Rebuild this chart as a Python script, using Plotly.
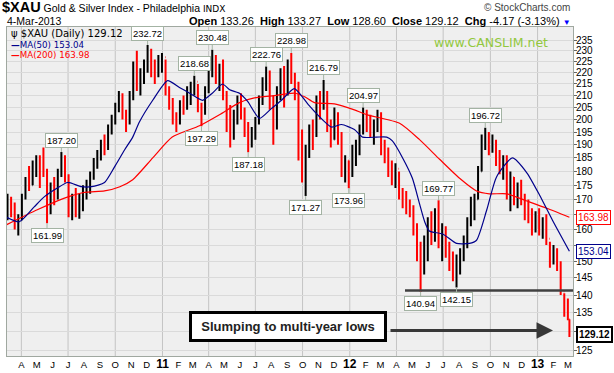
import numpy as np
import pandas as pd
import plotly.graph_objects as go

# ---------------- data ----------------
week_dates = pd.date_range("2010-03-05", "2013-03-01", freq="W-FRI").strftime("%Y-%m-%d").tolist()

high_2010 = [172, 171, 169, 165, 172, 178, 182, 184, 186, 186, 189, 181, 176, 178, 181, 187.20, 186,
             179, 172, 174, 172, 175, 177, 180, 185, 188, 192, 194, 198, 202, 207, 212, 211, 204, 212,
             225, 230, 222, 226, 232.72, 231, 226, 228, 229]
low_2010 = [163, 164, 160, 158, 163, 170, 173, 175, 178, 174, 178, 161.99, 165, 168, 170, 178, 176,
            164, 163, 164, 163.5, 166, 170, 172, 177, 181, 184, 186, 188, 194, 198, 203, 200, 195, 198,
            208, 212, 210, 215, 220, 218, 215, 218, 220]
close_2010 = [168, 166, 162, 163, 171, 176, 175, 182, 184, 182, 180, 170, 174, 172, 180, 184, 178,
              167, 170, 166, 169, 172, 175, 178, 184, 186, 190, 189, 196, 200, 205, 209, 203, 200, 210,
              222, 216, 219, 223, 229, 222, 220, 225, 227]

high_2011 = [226, 214, 209, 203, 208, 210, 214, 216, 218.68, 215, 207, 214, 222, 230.48, 228, 224, 226,
             212, 206, 204, 210, 211, 205, 199, 197, 201, 210, 218, 222.76, 221, 210, 214, 222, 223,
             226, 228.98, 220, 216, 196, 190, 198, 200, 210, 212, 216.79, 212, 200, 205, 203, 195, 186, 184]
low_2011 = [210, 204, 198, 195, 198, 202, 204, 206, 210, 203, 197.29, 202, 211, 218, 215, 212, 208,
            195, 189, 192, 198, 200, 193, 187.18, 189, 192, 198, 206, 212, 204, 190, 196, 208, 205,
            210, 215, 208, 184, 176, 171.27, 185, 188, 193, 200, 204, 195, 189, 192, 190, 178, 176, 173.96]
close_2011 = [212, 208, 200, 199, 206, 205, 212, 213, 216, 206, 203, 212, 220, 226, 218, 222, 210,
              200, 195, 201, 208, 203, 195, 191, 194, 199, 208, 215, 219, 206, 200, 212, 218, 212,
              224, 218, 214, 188, 185, 186, 196, 194, 208, 206, 210, 198, 192, 201, 194, 181, 184, 180]

high_2012 = [190, 192, 198, 204.97, 204, 202, 200, 204, 203, 192, 189, 184, 183, 180, 174, 173, 170,
             168, 162, 156, 158, 164, 166, 167, 169.77, 162, 161, 156, 153, 152, 154, 158, 164, 171, 172,
             182, 194, 196.72, 195, 194, 192, 188, 186, 186, 180, 178, 176, 177, 172, 170, 167, 166]
low_2012 = [178, 182, 186, 194, 195, 193, 190, 195, 186, 183, 178, 175, 174, 170, 167, 165, 164,
            158, 150, 140.94, 146, 150, 155, 156, 154, 150, 151, 147, 144, 142.15, 146, 150, 154, 161, 163,
            170, 180, 188, 186, 187, 182, 179, 177, 170, 166, 168, 167, 168, 163, 162, 158, 159]
close_2012 = [186, 189, 196, 202, 199, 196, 198, 201, 189, 188, 180, 178, 181, 172, 171, 168, 167,
              160, 152, 149, 155, 162, 158, 163, 157, 160, 153, 150, 147, 150, 152, 156, 162, 169, 170,
              180, 192, 194, 190, 191, 184, 181, 184, 173, 178, 171, 174, 170, 167, 166, 162, 164]

high_2013 = [167, 164, 165, 156, 155, 154, 150, 140.5, 139]
low_2013 = [158, 157, 155, 148, 149, 147, 140, 134, 133]
close_2013 = [160, 162, 157, 152, 153, 149, 141, 137, 133.29]

first_open = 167
last_day = "2013-03-04"
last_open, last_high, last_low, last_close = 133.26, 133.27, 128.60, 129.12
last_chg, last_chg_pct = -4.17, -3.13

ma50_dates = ["2010-03-03", "2010-03-28", "2010-04-26", "2010-05-16", "2010-06-10", "2010-06-30",
              "2010-07-27", "2010-08-16", "2010-09-10", "2010-09-29", "2010-10-19", "2010-11-04",
              "2010-11-17", "2010-12-13", "2011-01-11", "2011-02-03", "2011-02-23", "2011-03-20",
              "2011-04-08", "2011-04-28", "2011-05-12", "2011-05-31", "2011-06-16", "2011-07-09",
              "2011-08-01", "2011-08-21", "2011-09-15", "2011-10-11", "2011-10-30", "2011-11-26",
              "2011-12-16", "2012-01-10", "2012-01-26", "2012-02-22", "2012-03-13", "2012-03-24",
              "2012-04-13", "2012-05-02", "2012-05-16", "2012-05-26", "2012-06-04", "2012-06-30",
              "2012-07-27", "2012-08-21", "2012-09-04", "2012-09-24", "2012-10-13", "2012-11-13",
              "2012-12-11", "2013-01-05", "2013-01-30", "2013-03-04"]
ma50_vals = [164, 162.5, 167.5, 171, 174, 176, 174.5, 174.5, 176, 181.5, 188, 193, 199, 208,
             216.5, 213.5, 211, 208, 211, 215, 212.5, 211, 207.5, 200.5, 204.5, 208, 213, 206.5, 202,
             197, 198, 196, 193, 193, 193, 191.5, 185, 177.5, 168.5, 162.5, 159.5, 158.5, 155.5, 155.5,
             156.5, 166.5, 178, 185, 179.5, 171.5, 163, 153.04]

ma200_dates = ["2010-03-03", "2010-05-02", "2010-06-24", "2010-08-02", "2010-09-10", "2010-10-10",
               "2010-11-04", "2010-12-13", "2011-01-20", "2011-03-14", "2011-04-22", "2011-05-31",
               "2011-06-29", "2011-08-07", "2011-09-15", "2011-10-05", "2011-10-24", "2011-12-02",
               "2012-01-10", "2012-02-03", "2012-04-07", "2012-05-16", "2012-06-24", "2012-08-02",
               "2012-09-04", "2012-09-29", "2012-11-02", "2012-12-11", "2013-01-19", "2013-03-04"]
ma200_vals = [161.5, 166.5, 170.5, 172.5, 173, 174.5, 177, 185, 193, 197.5, 202, 207, 209, 210, 211,
              209.5, 207, 206.5, 204, 202, 198.5, 192, 184.5, 177.5, 173, 172, 172, 169.5, 167, 163.98]

high_labels = [232.72, 230.48, 228.98, 222.76, 218.68, 216.79, 204.97, 196.72, 187.20, 169.77]
low_labels = [161.99, 197.29, 187.18, 171.27, 173.96, 140.94, 142.15]

y_ticks = list(range(125, 240, 5))
y_ticks_hidden = [130, 155, 165]   # covered by the value tags
month_letters = ["J", "F", "M", "A", "M", "J", "J", "A", "S", "O", "N", "D"]

# ---------------- assemble ----------------
dates = week_dates + [last_day]
highs = high_2010 + high_2011 + high_2012 + high_2013 + [last_high]
lows = low_2010 + low_2011 + low_2012 + low_2013 + [last_low]
closes = close_2010 + close_2011 + close_2012 + close_2013 + [last_close]
opens = [first_open] + closes[:-2] + [last_open]

# pixel helpers for the plot box (left 7, right 573, top 27, bottom 356)
L, R, T, B = 7, 573, 27, 356
def px(X):
    return (X - L) / (R - L)
def py(Y):
    return (B - Y) / (B - T)

fig = go.Figure()
fig.add_trace(go.Ohlc(x=dates, open=opens, high=highs, low=lows, close=closes,
                      increasing=dict(line=dict(color="black", width=2.0)),
                      decreasing=dict(line=dict(color="#ff0000", width=2.0)),
                      tickwidth=0.3, hoverinfo="skip"))
fig.add_trace(go.Scatter(x=ma200_dates, y=ma200_vals, mode="lines",
                         line=dict(color="#ff0000", width=1.2, shape="spline", smoothing=0.6),
                         hoverinfo="skip"))
fig.add_trace(go.Scatter(x=ma50_dates, y=ma50_vals, mode="lines",
                         line=dict(color="#00008b", width=1.2, shape="spline", smoothing=0.6),
                         hoverinfo="skip"))

# month ticks
month_ticks = pd.date_range("2010-04-01", "2013-03-01", freq="MS")
tick_text = []
for d in month_ticks:
    if d.month == 1:
        tick_text.append("<b><span style='font-size:12px'>%02d</span></b>" % (d.year % 100))
    else:
        tick_text.append(month_letters[d.month - 1])
quarters = pd.date_range("2010-04-01", "2013-01-01", freq="QS")

shapes = []
for q in quarters:
    shapes.append(dict(type="line", xref="x", yref="paper", x0=q, x1=q, y0=0, y1=1,
                       line=dict(color="#c4c4c4", width=1), layer="below"))
# support line
shapes.append(dict(type="line", xref="paper", yref="paper", x0=px(405), x1=1,
                   y0=py(290.5), y1=py(290.5), line=dict(color="#404040", width=2.5)))

ann = []
label_font = dict(family="Liberation Sans, Arial", size=9.5, color="black")
for v in high_labels:
    i = highs.index(v)
    ann.append(dict(x=dates[i], y=np.log10(v), xref="x", yref="y", text="%.2f" % v,
                    showarrow=True, arrowhead=0, arrowwidth=1, arrowcolor="#a3b3a3",
                    ax=0, ay=-12, font=label_font, bgcolor="white", bordercolor="#a3b3a3",
                    borderwidth=1, borderpad=1))
for v in low_labels:
    i = lows.index(v)
    ann.append(dict(x=dates[i], y=np.log10(v), xref="x", yref="y", text="%.2f" % v,
                    showarrow=True, arrowhead=0, arrowwidth=1, arrowcolor="#a3b3a3",
                    ax=0, ay=12, font=label_font, bgcolor="white", bordercolor="#a3b3a3",
                    borderwidth=1, borderpad=1))

# right tags
tag_font = "Liberation Sans, Arial"
for val, col, bw, bold in [(ma200_vals[-1], "#ff0000", 1, False), (ma50_vals[-1], "#00008b", 1, False),
                            (last_close, "black", 2, True)]:
    t = "%.2f" % val
    if bold:
        t = "<b>" + t + "</b>"
    ann.append(dict(x=1, y=np.log10(val), xref="paper", yref="y", text=t, showarrow=False,
                    xanchor="left", yanchor="middle", xshift=3,
                    font=dict(family=tag_font, size=10, color=col), bgcolor="white",
                    bordercolor=col, borderwidth=bw, borderpad=1))

# legend inside plot
ann.append(dict(x=px(9), y=py(33.5), xref="paper", yref="paper", xanchor="left", yanchor="middle",
                showarrow=False, text="ψ $XAU (Daily) %.2f" % last_close,
                font=dict(family="DejaVu Sans", size=10, color="black")))
ann.append(dict(x=px(9), y=py(44.5), xref="paper", yref="paper", xanchor="left", yanchor="middle",
                showarrow=False, text="<b>—</b>MA(50) %.2f" % ma50_vals[-1],
                font=dict(family="DejaVu Sans", size=8.7, color="#00008b")))
ann.append(dict(x=px(9), y=py(55), xref="paper", yref="paper", xanchor="left", yanchor="middle",
                showarrow=False, text="<b>—</b>MA(200) %.2f" % ma200_vals[-1],
                font=dict(family="DejaVu Sans", size=8.7, color="#ff0000")))
ann.append(dict(x=px(490.5), y=py(42.3), xref="paper", yref="paper", xanchor="center", yanchor="middle",
                showarrow=False, text="www.CANSLIM.net",
                font=dict(family="DejaVu Sans", size=12.5, color="#92c83e")))

# header
ann.append(dict(x=px(0), y=py(6.5), xref="paper", yref="paper", xanchor="left", yanchor="middle",
                showarrow=False,
                text="<span style='font-size:14.5px'><b>$XAU</b></span> Gold & Silver Index - Philadelphia "
                     "<span style='font-size:9px;font-family:DejaVu Sans'>INDX</span>",
                font=dict(family="Liberation Sans, Arial", size=10.5, color="black")))
ann.append(dict(x=px(572), y=py(7), xref="paper", yref="paper", xanchor="right", yanchor="middle",
                showarrow=False, text="© StockCharts.com",
                font=dict(family="Liberation Sans, Arial", size=10, color="#444")))
ann.append(dict(x=px(5), y=py(21.5), xref="paper", yref="paper", xanchor="left", yanchor="middle",
                showarrow=False, text="4-Mar-2013",
                font=dict(family="Liberation Sans, Arial", size=10.5, color="black")))
sp = "\u00a0"
hdr = ("<b>Open</b>" + sp + "%.2f" % last_open + sp * 2 +
       "<b>High</b>" + sp + "%.2f" % last_high + sp * 2 +
       "<b>Low</b>" + sp + "%.2f" % last_low + sp * 2 +
       "<b>Close</b>" + sp + "%.2f" % last_close + sp * 2 +
       "<b>Chg</b>" + sp + "%.2f (%.2f%%)" % (last_chg, last_chg_pct) + sp +
       "<span style='color:#0000ff;font-size:8px'>▼</span>")
ann.append(dict(x=px(573), y=py(21), xref="paper", yref="paper", xanchor="right", yanchor="middle",
                showarrow=False, text=hdr,
                font=dict(family="Liberation Sans, Arial", size=11, color="black")))

# callout box and arrow
ann.append(dict(x=px(288), y=py(326.5), xref="paper", yref="paper", xanchor="center", yanchor="middle",
                showarrow=False, text="<b>Slumping to multi-year lows</b>",
                font=dict(family="Liberation Sans, Arial", size=13, color="#222"),
                bgcolor="white", bordercolor="black", borderwidth=3, borderpad=2,
                width=188, height=21))
ann.append(dict(x=px(553), y=py(330.5), xref="paper", yref="paper", text="", showarrow=True,
                ax=-164, ay=0, arrowhead=2, arrowsize=1.1, arrowwidth=3, arrowcolor="#383838"))

fig.update_layout(
    width=614, height=373,
    margin=dict(l=L, r=614 - R, t=T, b=373 - B),
    paper_bgcolor="white", plot_bgcolor="#efefef",
    showlegend=False,
    font=dict(family="Liberation Sans, Arial", size=10, color="black"),
    xaxis=dict(type="date", range=["2010-03-04", "2013-03-11"], rangeslider=dict(visible=False),
               tickvals=list(month_ticks), ticktext=tick_text, showgrid=False, ticks="",
               showline=True, mirror=True, linecolor="#a0a8a0", linewidth=1,
               tickfont=dict(size=9.5), automargin=False, fixedrange=True),
    yaxis=dict(type="log", side="right", range=[np.log10(123.7), np.log10(241.4)],
               tickvals=y_ticks, ticktext=["" if v in y_ticks_hidden else str(v) for v in y_ticks],
               ticks="outside", ticklen=3, ticklabelstandoff=-3,
               tickcolor="#666", showgrid=True, gridcolor="#dadada", gridwidth=1,
               showline=True, mirror=True, linecolor="#a0a8a0", linewidth=1,
               tickfont=dict(size=10), automargin=False, fixedrange=True),
    shapes=shapes,
    annotations=ann,
)

fig.write_html("out.html", config={"displayModeBar": False},
               post_script="document.body.style.margin='0px';document.body.style.padding='0px';"
                           "document.body.style.overflow='hidden';")
